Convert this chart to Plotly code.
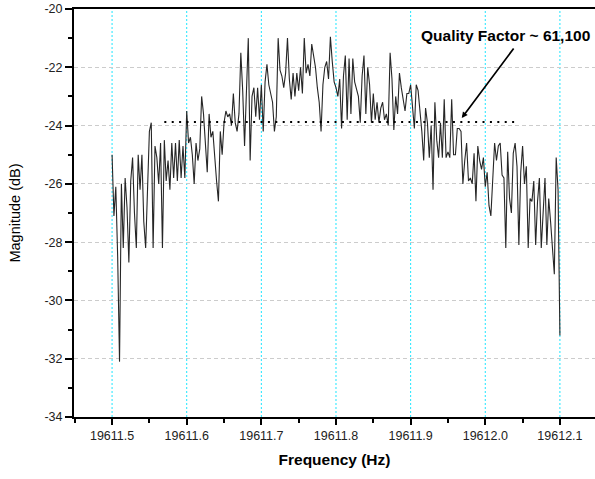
import plotly.graph_objects as go

# ---- data -------------------------------------------------------------
freq_start = 19611.5
freq_step = 0.0025

magnitude_db = [
    # 19611.500 - 19611.5475
    -25.0, -27.1, -26.1, -28.5, -32.1, -26.0, -28.2, -25.8, -26.8, -28.7,
    -25.9, -25.1, -27.0, -28.2, -25.0, -26.2, -25.0, -27.3, -28.2, -26.0,
    # 19611.550 - 19611.5975
    -24.2, -23.9, -28.2, -24.7, -25.1, -26.0, -24.6, -28.2, -24.5, -25.9,
    -25.2, -26.2, -24.6, -25.8, -24.6, -25.9, -24.5, -25.8, -24.7, -25.8,
    # 19611.600 - 19611.6475
    -23.5, -24.6, -24.4, -25.0, -26.0, -24.6, -25.2, -24.8, -23.0, -23.6,
    -24.6, -25.6, -23.6, -24.4, -24.2, -25.2, -25.9, -26.6, -24.2, -25.0,
    # 19611.650 - 19611.6975
    -23.9, -23.5, -23.7, -23.6, -24.0, -22.9, -23.9, -24.2, -23.6, -21.5,
    -22.8, -24.7, -22.5, -21.0, -25.2, -23.0, -22.7, -23.7, -22.7, -23.8,
    # 19611.700 - 19611.7475
    -22.6, -24.2, -22.5, -21.9, -22.6, -22.9, -23.2, -24.2, -23.7, -21.0,
    -22.1, -22.3, -22.7, -22.2, -21.0, -22.4, -23.1, -22.2, -23.0, -22.2,
    # 19611.750 - 19611.7975
    -22.8, -22.0, -22.9, -21.0, -22.2, -21.9, -22.3, -21.2, -21.6, -22.0,
    -22.7, -23.2, -24.2, -22.6, -22.0, -21.8, -22.4, -20.95, -21.8, -22.5,
    # 19611.800 - 19611.8475
    -22.7, -23.0, -22.4, -24.1, -22.3, -21.6, -23.8, -21.7, -23.6, -21.7,
    -22.5, -22.8, -23.0, -23.9, -22.3, -21.6, -23.6, -22.0, -22.6, -23.9,
    # 19611.850 - 19611.8975
    -22.9, -23.8, -23.2, -23.9, -23.4, -23.2, -23.8, -23.6, -24.0, -21.5,
    -22.4, -24.15, -23.0, -23.6, -22.2, -22.7, -23.2, -23.5, -22.9, -22.9,
    # 19611.900 - 19611.9475
    -22.6, -23.3, -24.1, -22.6, -22.8, -23.5, -24.2, -25.2, -23.4, -23.9,
    -25.1, -24.0, -26.2, -23.2, -24.5, -25.1, -23.9, -25.1, -23.1, -25.1,
    # 19611.950 - 19611.9975
    -24.9, -25.1, -23.1, -25.0, -25.0, -24.1, -24.1, -24.2, -26.0, -25.2,
    -24.6, -25.9, -25.8, -26.0, -24.95, -26.6, -24.7, -25.2, -25.5, -25.1,
    # 19612.000 - 19612.0475
    -26.1, -25.6, -26.75, -27.1, -25.8, -24.6, -25.2, -24.7, -24.6, -25.7,
    -25.8, -28.2, -24.9, -26.5, -27.0, -24.95, -24.6, -25.4, -28.1, -25.6,
    # 19612.050 - 19612.100
    -24.7, -26.0, -25.4, -28.2, -26.5, -26.6, -25.9, -28.1, -26.6, -25.8,
    -28.2, -27.0, -25.8, -28.1, -26.5, -27.3, -28.2, -29.1, -25.1, -26.2,
    -31.2,
]
frequency_hz = [round(freq_start + i * freq_step, 4) for i in range(len(magnitude_db))]

# -3 dB level marker used for the Q estimate
q_level_db = [-23.88, -23.88]
q_level_hz = [19611.57, 19612.045]
q_label = "Quality Factor ~ 61,100"
q_arrow_tip = (19611.9685, -23.74)

x_tick_vals = [19611.5, 19611.6, 19611.7, 19611.8, 19611.9, 19612.0, 19612.1]
x_tick_text = ["19611.5", "19611.6", "19611.7", "19611.8", "19611.9", "19612.0", "19612.1"]
y_tick_vals = [-34, -32, -30, -28, -26, -24, -22, -20]
y_tick_text = ["-34", "-32", "-30", "-28", "-26", "-24", "-22", "-20"]

# ---- figure -----------------------------------------------------------
FONT = "Arial, Liberation Sans, sans-serif"
W, H = 595, 479
ML, MR, MT, MB = 74, 0, 9, 62

fig = go.Figure()

# vertical cyan dotted grid at the major frequency ticks
for xv in x_tick_vals:
    fig.add_shape(type="line", xref="x", yref="paper", x0=xv, x1=xv, y0=0, y1=1,
                  line=dict(color="#1ee6ff", width=1, dash="2px,2px"), layer="below")

fig.add_trace(go.Scatter(
    x=frequency_hz, y=magnitude_db, mode="lines",
    line=dict(color="#262626", width=1.1), showlegend=False, hoverinfo="skip",
))
fig.add_trace(go.Scatter(
    x=q_level_hz, y=q_level_db, mode="lines",
    line=dict(color="black", width=2, dash="2px,5.4px"), showlegend=False, hoverinfo="skip",
))

fig.add_annotation(
    x=q_arrow_tip[0], y=q_arrow_tip[1], xref="x", yref="y",
    text="", showarrow=True, ax=53, ay=-71,
    arrowhead=2, arrowsize=0.7, arrowwidth=1.7, arrowcolor="black",
)
fig.add_annotation(
    x=(505 - ML) / (W - ML - MR), y=(H - MB - 35) / (H - MB - MT),
    xref="paper", yref="paper", text="<b>" + q_label + "</b>",
    showarrow=False, font=dict(family=FONT, size=15.5, color="black"),
    xanchor="center", yanchor="middle",
)

fig.update_layout(
    width=W, height=H,
    margin=dict(l=ML, r=MR, t=MT, b=MB, autoexpand=False),
    paper_bgcolor="white", plot_bgcolor="white",
    font=dict(family=FONT, size=12, color="#222"),
)

fig.update_xaxes(
    range=[19611.449, 19612.147], automargin=False,
    tickvals=x_tick_vals, ticktext=x_tick_text,
    ticks="outside", ticklen=6, tickwidth=1.5, tickcolor="black",
    minor=dict(dtick=0.05, tick0=19611.5, ticks="outside", ticklen=4,
               tickwidth=1.5, tickcolor="black", showgrid=False),
    showline=True, linecolor="black", linewidth=2, mirror=True,
    showgrid=False, zeroline=False,
    tickfont=dict(family=FONT, size=12.5, color="#222"),
    title=dict(text="<b>Frequency (Hz)</b>", font=dict(family=FONT, size=15.5, color="black"),
               standoff=12),
)
fig.update_yaxes(
    range=[-34, -20], automargin=False,
    tickvals=y_tick_vals, ticktext=y_tick_text,
    ticks="outside", ticklen=7, tickwidth=1.5, tickcolor="black",
    minor=dict(dtick=1, tick0=-34, ticks="outside", ticklen=4,
               tickwidth=1.5, tickcolor="black", showgrid=False),
    showline=True, linecolor="black", linewidth=2, mirror=False,
    showgrid=True, gridcolor="#cccccc", griddash="4px,3px", gridwidth=1,
    zeroline=False,
    tickfont=dict(family=FONT, size=12.5, color="#222"),
    title=dict(text="Magnitude (dB)", font=dict(family=FONT, size=14.5, color="black"),
               standoff=20),
)

fig.write_html("out.html", config={"displayModeBar": False},
               post_script="document.body.style.margin='0';")
